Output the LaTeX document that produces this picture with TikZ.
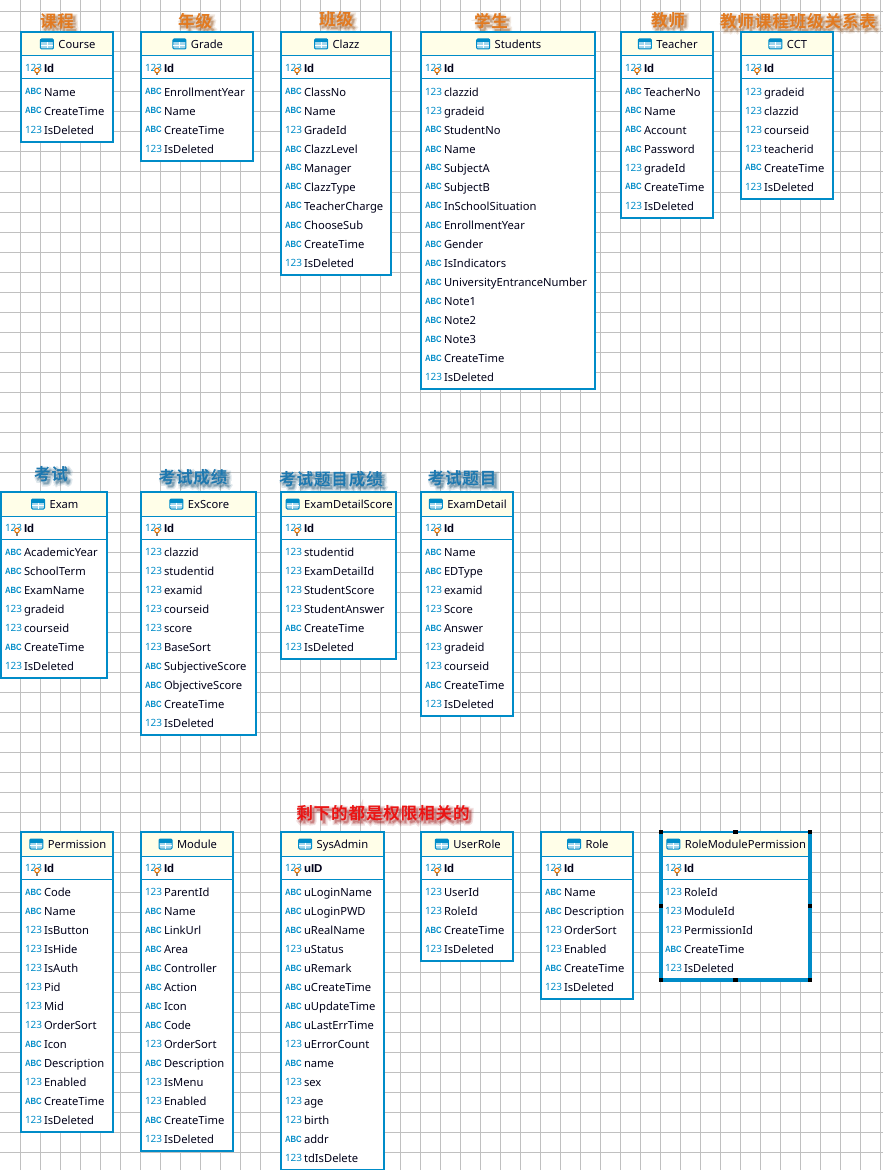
\documentclass[tikz,border=0pt]{standalone}
\usepackage{fontspec}
\setmainfont{Noto Sans}[BoldFont={Liberation Sans Bold}]
\newfontfamily\abcfont{Liberation Sans Bold}[FakeStretch=.85]
\newfontfamily\cjkfont{Noto Sans CJK SC Bold}[LetterSpace=5.4]
\newfontfamily\cjkshadowa{Noto Sans CJK SC Bold}[LetterSpace=5.4,FakeBold=12]
\newfontfamily\cjkshadowb{Noto Sans CJK SC Bold}[LetterSpace=5.4,FakeBold=28]
\usetikzlibrary{calc}
\definecolor{erblue}{RGB}{0,140,200}
\definecolor{hdrfill}{RGB}{255,254,232}
\definecolor{gridc}{RGB}{192,192,192}
\definecolor{torange}{RGB}{226,122,32}
\definecolor{tblue}{RGB}{30,120,175}
\definecolor{tred}{RGB}{235,20,20}
\tikzset{
  x=.75pt,y=-.75pt,
  tablebox/.style={draw=erblue,line width=1.5pt,fill=white,inner sep=0pt,outer sep=0pt,anchor=north west},
  hdrbox/.style={draw=erblue,line width=.75pt,fill=hdrfill,inner sep=0pt,outer sep=0pt,anchor=north west},
  fieldname/.style={anchor=base west,inner sep=0pt,outer sep=0pt,font=\fontsize{8.4pt}{10pt}\selectfont,text=black!90!blue},
  keyname/.style={fieldname,font=\fontsize{8.6pt}{10pt}\selectfont\bfseries},
  numicon/.style={anchor=base west,inner sep=0pt,outer sep=0pt,text=erblue,font=\fontsize{7.5pt}{10pt}\selectfont},
  abcicon/.style={anchor=base west,inner sep=0pt,outer sep=0pt,text=erblue,font=\abcfont\fontsize{6.8pt}{7pt}\selectfont},
  tabletitle/.style={anchor=base,inner sep=0pt,outer sep=0pt,font=\fontsize{8.4pt}{10pt}\selectfont,text=black!90!blue},
  cntitle/.style={inner sep=0pt,outer sep=0pt,anchor=center},
  handle/.style={fill=black,draw=none,minimum size=3.4pt,inner sep=0pt,outer sep=0pt},
}
% #1 id, #2 x, #3 y, #4 width, #5 field count, #6 title, #7 key name, #8 fields
\newcommand{\ertable}[8]{
  \pgfmathsetmacro{\tblh}{#5*19+53}
  \node[tablebox,minimum width=#4*.75pt,minimum height=\tblh*.75pt] (#1) at (#2,#3) {};
  \node[hdrbox,minimum width=#4*.75pt,minimum height=24*.75pt] (#1-h) at (#2,#3) {};
  \draw[erblue,line width=.75pt] (#2,#3+47) -- (#2+#4,#3+47);
  \draw[erblue,line width=1.5pt] (#1.north west) rectangle (#1.south east);
  \node[tabletitle] (#1-tt) at (#2+#4/2+10,#3+16.5) {#6};
  \coordinate (#1-ic) at (#1-tt.west |- #1-h.center);
  \draw[erblue,fill=erblue!35!white,rounded corners=.8pt,line width=.75pt] ($(#1-ic)+(-18,-5)$) rectangle ($(#1-ic)+(-5,5)$);
  \fill[erblue] ($(#1-ic)+(-18,-5)$) rectangle ($(#1-ic)+(-5,-1.5)$);
  \draw[white,line width=.6pt] ($(#1-ic)+(-17.5,1.5)$) -- ($(#1-ic)+(-5.5,1.5)$) ($(#1-ic)+(-11.5,-1.5)$) -- ($(#1-ic)+(-11.5,4.5)$);
  \node[numicon] (#1-ki) at (#2+4,#3+39.5) {123};
  \draw[gray,line width=.9pt] (#2+16,#3+40) -- (#2+16,#3+43.5);
  \draw[orange!90!black,fill=white,line width=.8pt] (#2+16,#3+38.5) circle (2.3);
  \node[keyname] (#1-k) at (#2+23,#3+40.5) {#7};
  \foreach \ty/\fn [count=\ri from 0] in {#8} {
    \if n\ty
      \node[numicon] (#1-i\ri) at (#2+4,#3+63.5+19*\ri) {123};
    \else
      \node[abcicon] (#1-i\ri) at (#2+4,#3+63+19*\ri) {ABC};
    \fi
    \node[fieldname] (#1-f\ri) at (#2+23,#3+64.4+19*\ri) {\fn};
  }
}
% #1 id, #2 x, #3 y, #4 colour, #5 text
\newcommand{\cntxt}[5]{
  \begin{scope}[opacity=.13]
    \node[cntitle,text=#4!65!black,font=\cjkshadowb\fontsize{12.4pt}{14pt}\selectfont] (#1-sb) at (#2+2.5,#3+2.5) {#5};
  \end{scope}
  \begin{scope}[opacity=.2]
    \node[cntitle,text=#4!65!black,font=\cjkshadowa\fontsize{12.4pt}{14pt}\selectfont] (#1-sa) at (#2+2.5,#3+2.5) {#5};
  \end{scope}
  \node[cntitle,text=#4,font=\cjkfont\fontsize{12.4pt}{14pt}\selectfont] (#1) at (#2,#3) {#5};
}
\begin{document}
\begin{tikzpicture}
\useasboundingbox (0,0) rectangle (883,1170);
\fill[white] (0,0) rectangle (883,1170);
\foreach \gx in {20,40,...,880} \draw[gridc,line width=.75pt] (\gx,0) -- (\gx,1170);
\foreach \gy in {12,32,...,1170} \draw[gridc,line width=.75pt] (0,\gy) -- (883,\gy);

\cntxt{c1}{57}{21}{torange}{课程}
\cntxt{c2}{195}{21}{torange}{年级}
\cntxt{c3}{336}{19}{torange}{班级}
\cntxt{c4}{491}{21}{torange}{学生}
\cntxt{c5}{668}{20}{torange}{教师}
\cntxt{c6}{798}{21}{torange}{教师课程班级关系表}
\cntxt{c7}{51}{474}{tblue}{考试}
\cntxt{c8}{193}{477}{tblue}{考试成绩}
\cntxt{c9}{331}{479}{tblue}{考试题目成绩}
\cntxt{c10}{462}{478}{tblue}{考试题目}
\cntxt{c11}{383}{813}{tred}{剩下的都是权限相关的}

\ertable{course}{21}{32}{92}{3}{Course}{Id}{a/Name,a/CreateTime,n/IsDeleted}
\ertable{grade}{141}{32}{112}{4}{Grade}{Id}{a/EnrollmentYear,a/Name,a/CreateTime,n/IsDeleted}
\ertable{clazz}{281}{32}{110}{10}{Clazz}{Id}{a/ClassNo,a/Name,n/GradeId,a/ClazzLevel,a/Manager,a/ClazzType,a/TeacherCharge,a/ChooseSub,a/CreateTime,n/IsDeleted}
\ertable{students}{421}{32}{174}{16}{Students}{Id}{n/clazzid,n/gradeid,a/StudentNo,a/Name,a/SubjectA,a/SubjectB,a/InSchoolSituation,a/EnrollmentYear,a/Gender,a/IsIndicators,a/UniversityEntranceNumber,a/Note1,a/Note2,a/Note3,a/CreateTime,n/IsDeleted}
\ertable{teacher}{621}{32}{92}{7}{Teacher}{Id}{a/TeacherNo,a/Name,a/Account,a/Password,n/gradeId,a/CreateTime,n/IsDeleted}
\ertable{cct}{741}{32}{92}{6}{CCT}{Id}{n/gradeid,n/clazzid,n/courseid,n/teacherid,a/CreateTime,n/IsDeleted}

\ertable{exam}{1}{492}{106}{7}{Exam}{Id}{a/AcademicYear,a/SchoolTerm,a/ExamName,n/gradeid,n/courseid,a/CreateTime,n/IsDeleted}
\ertable{exscore}{141}{492}{115}{10}{ExScore}{Id}{n/clazzid,n/studentid,n/examid,n/courseid,n/score,n/BaseSort,a/SubjectiveScore,a/ObjectiveScore,a/CreateTime,n/IsDeleted}
\ertable{eds}{281}{492}{115}{6}{ExamDetailScore}{Id}{n/studentid,n/ExamDetailId,n/StudentScore,n/StudentAnswer,a/CreateTime,n/IsDeleted}
\ertable{ed}{421}{492}{92}{9}{ExamDetail}{Id}{a/Name,a/EDType,n/examid,n/Score,a/Answer,n/gradeid,n/courseid,a/CreateTime,n/IsDeleted}

\ertable{perm}{21}{832}{92}{13}{Permission}{Id}{a/Code,a/Name,n/IsButton,n/IsHide,n/IsAuth,n/Pid,n/Mid,n/OrderSort,a/Icon,a/Description,n/Enabled,a/CreateTime,n/IsDeleted}
\ertable{module}{141}{832}{92}{14}{Module}{Id}{n/ParentId,a/Name,a/LinkUrl,a/Area,a/Controller,a/Action,a/Icon,a/Code,n/OrderSort,a/Description,n/IsMenu,n/Enabled,a/CreateTime,n/IsDeleted}
\ertable{sysadmin}{281}{832}{103}{15}{SysAdmin}{uID}{a/uLoginName,a/uLoginPWD,a/uRealName,n/uStatus,a/uRemark,a/uCreateTime,a/uUpdateTime,a/uLastErrTime,n/uErrorCount,a/name,n/sex,n/age,n/birth,a/addr,n/tdIsDelete}
\ertable{userrole}{421}{832}{92}{4}{UserRole}{Id}{n/UserId,n/RoleId,a/CreateTime,n/IsDeleted}
\ertable{role}{541}{832}{92}{6}{Role}{Id}{a/Name,a/Description,n/OrderSort,n/Enabled,a/CreateTime,n/IsDeleted}
\ertable{rmp}{661}{832}{149}{5}{RoleModulePermission}{Id}{n/RoleId,n/ModuleId,n/PermissionId,a/CreateTime,n/IsDeleted}

\draw[erblue,line width=3pt] (rmp.south west) -- (rmp.south east);
\draw[erblue,line width=2.6pt] (rmp.north west) -- (rmp.south west) (rmp.north east) -- (rmp.south east);
\foreach \a/\n in {north west/a,north/b,north east/c,west/d,east/e,south west/f,south/g,south east/h}
  \node[handle] (h\n) at (rmp.\a) {};
\end{tikzpicture}
\end{document}
